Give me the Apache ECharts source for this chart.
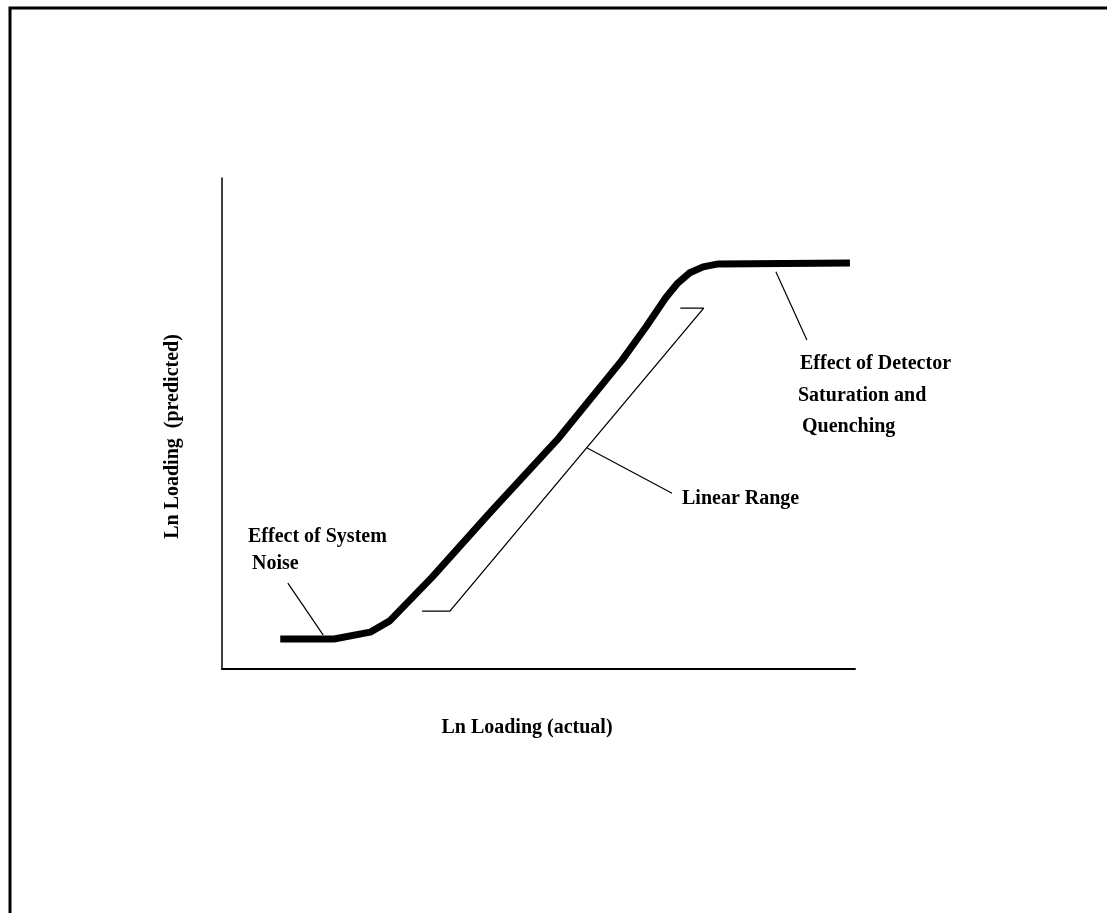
<!DOCTYPE html>
<html>
<head>
<meta charset="utf-8">
<title>Ln Loading</title>
<script src="https://cdn.jsdelivr.net/npm/echarts@6/dist/echarts.min.js"></script>
<style>
  html, body { margin: 0; padding: 0; background: #fff; }
  #chart { width: 1107px; height: 913px; }
</style>
</head>
<body>
<div id="chart"></div>
<script>
// response curve (axis units 0..100)
const curveX = [9.2, 17.7, 23.4, 26.5, 33.2, 42.3, 52.9, 63.2, 67.0, 70.1, 72.0, 73.9, 76.0, 78.4, 99.2];
const curveY = [6.1, 6.1, 7.5, 9.8, 18.7, 31.8, 46.6, 62.9, 69.7, 75.6, 78.6, 80.7, 81.9, 82.5, 82.7];

// bracket marking the linear range
const bracketX = [31.6, 36.0, 76.1, 72.4];
const bracketY = [11.8, 11.8, 73.5, 73.5];

// leader lines from the notes to the curve
const noiseLeaderX = [10.4, 16.0];
const noiseLeaderY = [17.5, 6.9];
const rangeLeaderX = [57.7, 71.1];
const rangeLeaderY = [45.0, 35.8];
const saturationLeaderX = [87.5, 92.4];
const saturationLeaderY = [80.9, 67.0];

const xTitle = 'Ln Loading (actual)';
const yTitle = 'Ln Loading  (predicted)';
const noiseNote = ['Effect of System', 'Noise'];
const rangeNote = ['Linear Range'];
const saturationNote = ['Effect of Detector', 'Saturation and', 'Quenching'];

const font = 'Liberation Serif, Times New Roman, serif';

const pairs = (xs, ys) => xs.map((x, i) => [x, ys[i]]);

const thinLine = (name, xs, ys, width) => ({
  name: name,
  type: 'line',
  data: pairs(xs, ys),
  symbol: 'none',
  silent: true,
  lineStyle: { color: '#000', width: width }
});

const noteText = (lines, left, tops) => lines.map((t, i) => ({
  type: 'text',
  left: left[i],
  top: tops[i],
  style: { text: t, fill: '#000', font: 'bold 20px ' + font }
}));

const chart = echarts.init(document.getElementById('chart'));

chart.setOption({
  animation: false,
  backgroundColor: '#fff',
  grid: { left: 222, right: 252, top: 178, bottom: 244 },
  xAxis: {
    type: 'value',
    min: 0,
    max: 100,
    name: xTitle,
    nameLocation: 'middle',
    nameGap: 49,
    nameTextStyle: { fontFamily: font, fontWeight: 'bold', fontSize: 20, color: '#000', padding: [0, 23, 0, 0] },
    axisLine: { show: true, lineStyle: { color: '#000', width: 2 } },
    axisTick: { show: false },
    axisLabel: { show: false },
    splitLine: { show: false }
  },
  yAxis: {
    type: 'value',
    min: 0,
    max: 100,
    name: yTitle,
    nameLocation: 'middle',
    nameGap: 39,
    nameTextStyle: { fontFamily: font, fontWeight: 'bold', fontSize: 20, color: '#000', padding: [0, 26, 0, 0] },
    axisLine: { show: true, lineStyle: { color: '#000', width: 1.5 } },
    axisTick: { show: false },
    axisLabel: { show: false },
    splitLine: { show: false }
  },
  series: [
    {
      name: 'Response',
      type: 'line',
      data: pairs(curveX, curveY),
      symbol: 'none',
      silent: true,
      lineStyle: { color: '#000', width: 7, join: 'round' }
    },
    thinLine('Linear range bracket', bracketX, bracketY, 1.3),
    thinLine('Noise leader', noiseLeaderX, noiseLeaderY, 1.2),
    thinLine('Range leader', rangeLeaderX, rangeLeaderY, 1.2),
    thinLine('Saturation leader', saturationLeaderX, saturationLeaderY, 1.2)
  ],
  graphic: [
    {
      type: 'polyline',
      shape: { points: [[10, 913], [10, 8], [1107, 8]] },
      style: { stroke: '#000', lineWidth: 3, fill: null }
    }
  ]
    .concat(noteText(noiseNote, [248, 252], [527, 554]))
    .concat(noteText(rangeNote, [682], [489]))
    .concat(noteText(saturationNote, [800, 798, 802], [354, 386, 417]))
});
</script>
</body>
</html>
